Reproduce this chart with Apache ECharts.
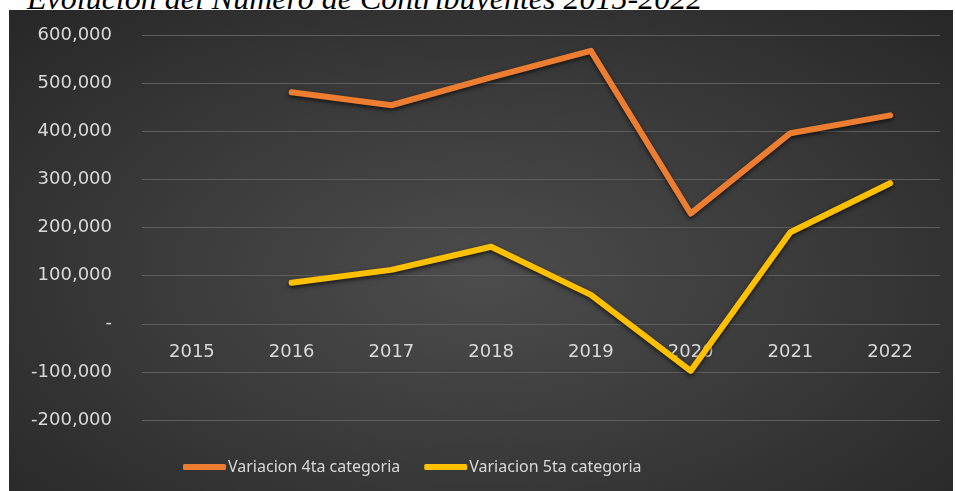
<!DOCTYPE html>
<html>
<head>
<meta charset="utf-8">
<script src="https://cdn.jsdelivr.net/npm/echarts@6/dist/echarts.min.js"></script>
<style>
  html, body { margin: 0; padding: 0; background: #fff; }
  #wrap { position: relative; width: 955px; height: 491px; overflow: hidden; }
  #title {
    position: absolute; left: 27px; top: -18px; z-index: 0;
    font-family: "Liberation Serif", serif; font-style: italic; font-size: 32px;
    line-height: 32px; color: #000; white-space: nowrap;
  }
  #bg {
    position: absolute; left: 9px; top: 10px; width: 944px; height: 481px; z-index: 1;
    background: radial-gradient(ellipse at 50% 55%, #4c4c4c 0%, #3c3c3c 45%, #272727 100%);
  }
  #main { position: absolute; left: 0; top: 0; width: 955px; height: 491px; z-index: 2; }
</style>
</head>
<body>
<div id="wrap">
  <div id="title">Evolución del Número de Contribuyentes 2015-2022</div>
  <div id="bg"></div>
  <div id="main"></div>
</div>
<script>
window.addEventListener('load', function () {
    let years = ['2015', '2016', '2017', '2018', '2019', '2020', '2021', '2022'];
    let cuarta = [null, 481000, 454000, 512000, 567000, 229000, 396000, 433000];
    let quinta = [null, 85000, 112000, 160000, 60000, -98000, 190000, 292000];
    let names = ['Variacion 4ta categoria', 'Variacion 5ta categoria'];

    let chart = echarts.init(document.getElementById('main'));

    let lineShadow = {
        shadowColor: 'rgba(0,0,0,0.65)',
        shadowBlur: 4,
        shadowOffsetY: 2,
        cap: 'round',
        join: 'round'
    };

    let option = {
        backgroundColor: 'transparent',
        animation: false,
        grid: { left: 142, right: 15, top: 35, bottom: 71 },
        legend: {
            left: 178,
            top: 454,
            icon: 'roundRect',
            itemWidth: 43,
            itemHeight: 6,
            itemGap: 24,
            textStyle: { color: '#d9d9d9', fontSize: 16, fontFamily: 'Noto Sans', padding: [0, 0, 0, -3] },
            data: names
        },
        xAxis: {
            type: 'category',
            data: years,
            boundaryGap: true,
            position: 'bottom',
            // labels sit just under the zero line, as in the original
            offset: -96,
            axisLine: { show: false, onZero: false },
            axisTick: { show: false },
            axisLabel: { color: '#d9d9d9', fontSize: 18, fontFamily: 'DejaVu Sans', margin: 19 }
        },
        yAxis: {
            type: 'value',
            min: -200000,
            max: 600000,
            interval: 100000,
            axisLine: { show: false },
            axisTick: { show: false },
            splitLine: { lineStyle: { color: '#5e5e5e', width: 1 } },
            axisLabel: {
                color: '#d9d9d9',
                fontSize: 18,
                fontFamily: 'DejaVu Sans',
                margin: 30,
                formatter: function (v) {
                    return v === 0 ? '-' : v.toLocaleString('en-US');
                }
            }
        },
        series: [
            {
                name: names[0],
                type: 'line',
                data: cuarta,
                symbol: 'none',
                color: '#ED7D31',
                lineStyle: Object.assign({ width: 6, color: '#ED7D31' }, lineShadow)
            },
            {
                name: names[1],
                type: 'line',
                data: quinta,
                symbol: 'none',
                color: '#FFC000',
                lineStyle: Object.assign({ width: 6, color: '#FFC000' }, lineShadow)
            }
        ]
    };
    chart.setOption(option);
}, false);
</script>
</body>
</html>
